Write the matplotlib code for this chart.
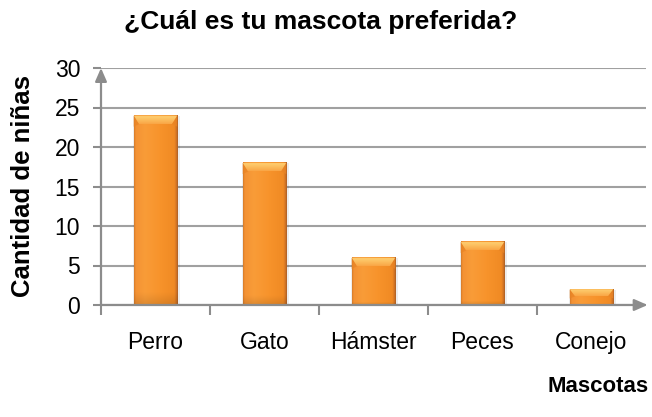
import numpy as np
import matplotlib
matplotlib.use("Agg")
import matplotlib.pyplot as plt
from matplotlib.colors import LinearSegmentedColormap
from matplotlib.patches import Polygon

plt.rcParams['font.family'] = ['Liberation Sans', 'DejaVu Sans']

categories = ['Perro', 'Gato', 'Hámster', 'Peces', 'Conejo']
values = [24, 18, 6, 8, 2]
y_ticks = [0, 5, 10, 15, 20, 25, 30]

title = '¿Cuál es tu mascota preferida?'
y_label = 'Cantidad de niñas'
x_label = 'Mascotas'

axis_gray = '#8C8C8C'
grid_gray = '#A0A0A0'

fig = plt.figure(figsize=(6.52, 4.17), dpi=100)
ax = fig.add_axes([101 / 652, 1 - 305 / 417, 545 / 652, 237 / 417])

x = np.arange(len(categories))
bar_w = 0.4
bars = ax.bar(x, values, width=bar_w, color='none', edgecolor='none', zorder=3)

# horizontal shading across each column
body_cmap = LinearSegmentedColormap.from_list(
    'body', [(0.0, '#D47A2A'), (0.04, '#F39234'), (0.25, '#F99C38'),
             (0.6, '#F7932B'), (0.92, '#F08A24'), (0.97, '#CF7224'),
             (1.0, '#A85E26')])
top_cmap = LinearSegmentedColormap.from_list(
    'top', [(0.0, '#F9A545'), (0.45, '#FCBC5C'), (0.85, '#FECE70'),
            (1.0, '#F6A444')])
side_color = '#E98424'

grad = np.linspace(0, 1, 256).reshape(1, -1)
vshade = np.ones((64, 1))
vshade[:4] = np.linspace(0.9, 0.98, 4).reshape(-1, 1)
bevel_h = 1.1
bevel_dx = 0.05

for rect in bars:
    x0 = rect.get_x()
    w = rect.get_width()
    h = rect.get_height()
    rgb = body_cmap(np.tile(grad, (64, 1)))[..., :3] * vshade[..., None]
    # soft shadow beside the column
    ax.add_patch(plt.Rectangle((x0 - 0.008, 0), w + 0.03, h - 0.05,
                               facecolor='#000000', alpha=0.07,
                               edgecolor='none', zorder=2.5))
    ax.imshow(rgb, extent=[x0, x0 + w, 0, h], origin='lower',
              aspect='auto', zorder=3, clip_path=rect, clip_on=True,
              interpolation='bilinear')
    # bevelled top: darker side strips, light top face
    bh = min(bevel_h, h * 0.45)
    for pts in ([(x0, h), (x0 + bevel_dx, h - bh), (x0, h - bh * 1.3)],
                [(x0 + w, h), (x0 + w - bevel_dx, h - bh),
                 (x0 + w, h - bh * 1.3)]):
        ax.add_patch(Polygon(pts, closed=True, facecolor=side_color,
                             edgecolor='none', alpha=0.75, zorder=3.5))
    top = Polygon([(x0, h), (x0 + w, h), (x0 + w - bevel_dx, h - bh),
                   (x0 + bevel_dx, h - bh)], closed=True,
                  facecolor='none', edgecolor='none', zorder=4)
    ax.add_patch(top)
    tgrad = np.linspace(0, 1, 64).reshape(-1, 1) * np.ones((1, 32))
    ax.imshow(top_cmap(tgrad), extent=[x0, x0 + w, h - bh, h],
              origin='lower', aspect='auto', zorder=4, clip_path=top,
              clip_on=True, interpolation='bilinear')

ax.set_xlim(-0.5, len(categories) - 0.5)
ax.set_ylim(0, 30)

ax.set_yticks(y_ticks)
ax.set_yticklabels([str(v) for v in y_ticks], fontsize=16.5)
ax.set_xticks(x)
ax.set_xticklabels(categories, fontsize=16.5)
ax.set_xticks(np.arange(len(categories)) - 0.5, minor=True)

ax.tick_params(axis='x', which='major', length=0, pad=19)
ax.tick_params(axis='x', which='minor', length=7, width=1.5,
               color=axis_gray, direction='out')
ax.tick_params(axis='y', which='major', length=6, width=1.5,
               color=axis_gray, direction='out', pad=9)

ax.yaxis.grid(True, color=grid_gray, linewidth=1.5, zorder=1)
ax.set_axisbelow(True)
for s in ax.spines.values():
    s.set_visible(False)

# axis lines with arrow heads
arrow_kw = dict(arrowstyle='-|>,head_length=0.8,head_width=0.35',
                color=axis_gray, lw=1.6, shrinkA=0, shrinkB=0)
ax.annotate('', xy=(0, 1.0), xytext=(0, 0), xycoords='axes fraction',
            arrowprops=arrow_kw, zorder=5, annotation_clip=False)
ax.annotate('', xy=(1.003, 0), xytext=(0, 0), xycoords='axes fraction',
            arrowprops=arrow_kw, zorder=5, annotation_clip=False)

fig.text(321 / 652, 1 - 22 / 417, title, fontsize=19, fontweight='bold',
         ha='center', va='center')
fig.text(23 / 652, 1 - 186 / 417, y_label, fontsize=18.5, fontweight='bold',
         rotation=90, ha='center', va='center')
fig.text(598 / 652, 1 - 387 / 417, x_label, fontsize=16, fontweight='bold',
         ha='center', va='center')

fig.savefig('out.png', dpi=100)
